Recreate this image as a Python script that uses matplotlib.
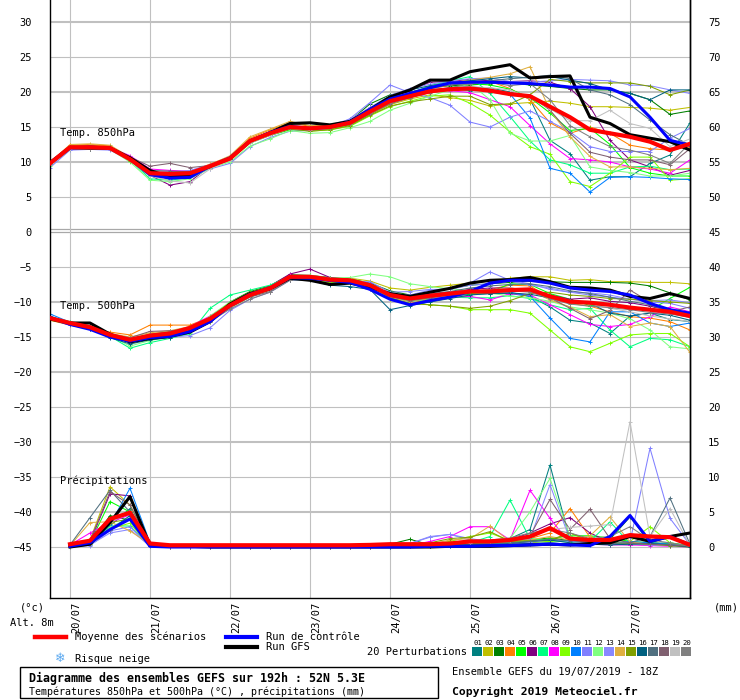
import numpy as np
import matplotlib
matplotlib.use("Agg")
import matplotlib.pyplot as plt
from matplotlib.patches import Rectangle
from matplotlib.lines import Line2D

W, H = 740, 700

def fx(x):
    return x / W

def fy(y):
    return 1 - y / H

# --- data -------------------------------------------------------------
steps = np.arange(33)          # 6-hourly from 19/07 18Z
days = ["20/07", "21/07", "22/07", "23/07", "24/07", "25/07", "26/07", "27/07"]
day_steps = [1, 5, 9, 13, 17, 21, 25, 29]

pert_colors = ["#008080", "#c0c000", "#008000", "#ff8000", "#00ff00",
               "#800080", "#00ff80", "#ff00ff", "#80ff00", "#0080ff",
               "#8080ff", "#80ff80", "#8888ff", "#e0b040", "#80a000",
               "#006080", "#507080", "#806070", "#c0c0c0", "#808080"]

t850_mean = [9.8, 12.1, 12.1, 12.0, 10.4, 8.4, 8.3, 8.4, 9.4, 10.5, 13.0, 14.1, 15.0, 14.8, 15.0, 15.6, 17.2,
             18.7, 19.4, 20.1, 20.4, 20.5, 20.2, 19.7, 19.4, 17.9, 16.4, 14.6, 14.1, 13.6, 12.9, 11.7, 12.6]
t850_ctrl = [9.8, 12.0, 12.1, 12.0, 10.4, 8.2, 7.7, 7.8, 9.4, 10.6, 13.0, 14.2, 15.1, 14.8, 15.0, 15.7, 17.5,
             19.0, 19.8, 20.6, 21.3, 21.4, 21.4, 21.3, 21.2, 21.0, 20.7, 20.7, 20.5, 19.3, 16.4, 13.1, 12.4]
t850_gfs = [9.9, 12.1, 12.0, 12.0, 10.6, 8.8, 7.8, 8.2, 9.4, 10.5, 13.0, 14.2, 15.5, 15.6, 15.3, 15.8, 17.5,
            19.3, 20.3, 21.7, 21.7, 22.9, 23.4, 23.9, 22.0, 22.2, 22.3, 16.4, 15.5, 13.9, 13.4, 12.9, 11.7]
t850_pert = [
    [10.0, 12.0, 12.2, 11.9, 10.6, 8.6, 8.0, 8.2, 9.3, 10.6, 12.9, 14.0, 14.8, 14.9, 15.1, 15.8, 17.4,
     18.6, 19.5, 20.2, 20.5, 20.2, 20.6, 20.0, 19.0, 13.1, 11.2, 7.4, 7.9, 7.9, 9.8, 11.0, 15.6],
    [9.6, 12.3, 12.4, 12.2, 10.5, 8.2, 7.6, 7.8, 9.6, 10.7, 13.2, 14.3, 15.2, 14.6, 14.8, 15.4, 16.8,
     18.2, 19.0, 19.6, 19.2, 18.8, 18.0, 18.3, 18.5, 18.7, 18.4, 17.9, 17.9, 17.8, 17.7, 17.4, 17.8],
    [9.9, 12.0, 12.0, 12.1, 10.3, 8.3, 8.5, 8.6, 9.5, 10.4, 12.8, 13.9, 14.9, 14.9, 15.2, 15.9, 18.3,
     19.6, 20.0, 20.6, 20.9, 21.0, 21.2, 21.3, 21.0, 20.8, 20.5, 20.3, 20.3, 19.8, 18.9, 16.8, 17.3],
    [9.8, 12.4, 12.5, 12.3, 10.6, 8.5, 8.4, 8.6, 9.7, 10.8, 13.4, 14.6, 15.6, 15.1, 15.2, 15.9, 17.3,
     18.9, 19.7, 20.4, 21.0, 21.3, 21.5, 20.5, 18.9, 15.6, 14.1, 15.0, 14.1, 12.4, 11.9, 11.7, 12.2],
    [9.7, 12.1, 12.0, 11.9, 10.2, 8.0, 7.8, 8.1, 9.2, 10.3, 12.7, 13.8, 14.6, 14.5, 14.8, 15.3, 16.9,
     18.4, 19.3, 20.0, 20.6, 21.2, 21.0, 20.4, 19.2, 17.0, 14.5, 14.8, 12.5, 9.2, 8.4, 8.0, 8.0],
    [9.9, 12.2, 12.3, 12.1, 10.5, 8.1, 6.7, 7.2, 9.4, 10.6, 13.1, 14.2, 15.1, 14.7, 15.0, 15.7, 17.4,
     19.2, 20.2, 21.4, 21.5, 21.8, 21.6, 21.5, 21.6, 21.4, 20.5, 17.9, 13.1, 10.3, 9.3, 8.1, 8.8],
    [9.7, 11.9, 12.1, 12.0, 10.3, 7.6, 7.4, 7.8, 9.3, 10.6, 13.0, 14.0, 14.9, 14.6, 14.7, 15.5, 17.0,
     18.8, 19.8, 20.9, 21.6, 22.2, 19.8, 16.5, 13.0, 10.3, 9.6, 8.4, 8.4, 9.3, 9.4, 8.9, 9.0],
    [9.8, 12.2, 12.2, 12.1, 10.9, 9.0, 8.8, 8.7, 9.6, 10.7, 13.2, 14.1, 15.0, 14.7, 15.0, 15.6, 17.0,
     18.5, 19.9, 20.3, 20.2, 19.9, 18.9, 17.9, 15.2, 12.6, 10.5, 10.3, 10.0, 9.3, 9.0, 8.4, 10.3],
    [9.6, 11.8, 11.9, 11.8, 10.2, 8.2, 8.1, 8.3, 9.3, 10.5, 12.9, 14.0, 14.8, 14.4, 14.6, 15.1, 16.6,
     17.9, 18.7, 19.4, 19.6, 18.4, 16.7, 14.3, 12.2, 11.1, 7.2, 6.5, 8.4, 10.7, 10.7, 7.4, 7.6],
    [9.7, 12.0, 12.1, 12.0, 10.4, 8.2, 7.6, 7.9, 9.5, 10.6, 13.1, 14.2, 15.1, 14.8, 15.0, 15.6, 17.3,
     18.8, 19.6, 20.3, 20.6, 20.8, 20.4, 19.7, 16.3, 9.1, 8.4, 5.7, 7.8, 7.9, 7.8, 7.6, 7.5],
    [9.2, 11.7, 11.8, 11.7, 10.2, 8.0, 7.7, 7.9, 9.0, 9.8, 12.2, 13.5, 14.4, 14.5, 14.8, 16.2, 18.5,
     21.0, 19.9, 19.2, 18.1, 15.7, 15.0, 16.4, 17.3, 15.8, 14.3, 12.2, 11.5, 11.5, 11.5, 13.4, 14.8],
    [9.5, 11.8, 11.9, 11.8, 10.0, 7.4, 7.2, 7.6, 9.1, 10.0, 12.3, 13.3, 14.5, 14.1, 14.2, 14.9, 15.8,
     17.4, 18.4, 19.4, 20.3, 21.2, 18.9, 14.1, 13.0, 13.0, 13.8, 9.3, 8.8, 8.5, 8.0, 8.0, 8.4],
    [9.8, 12.1, 12.0, 11.9, 10.4, 8.5, 8.6, 8.8, 9.6, 10.5, 12.9, 14.0, 15.0, 14.9, 15.3, 16.1, 17.8,
     19.5, 20.5, 21.1, 21.6, 21.9, 22.0, 21.5, 21.4, 21.6, 21.8, 21.7, 21.6, 21.0, 20.9, 20.3, 19.8],
    [9.9, 12.5, 12.6, 12.4, 10.7, 8.6, 8.4, 8.5, 9.6, 10.9, 13.6, 14.7, 15.8, 15.2, 15.2, 15.8, 17.4,
     19.0, 19.9, 20.7, 21.3, 21.7, 22.1, 22.6, 23.6, 17.4, 13.6, 10.8, 9.3, 9.3, 9.1, 8.9, 9.1],
    [9.8, 12.0, 12.1, 11.9, 10.2, 8.2, 8.0, 8.2, 9.4, 10.4, 12.8, 13.8, 14.7, 14.4, 14.6, 15.2, 16.7,
     18.0, 18.6, 19.0, 19.4, 19.4, 18.2, 18.3, 19.6, 21.8, 21.5, 21.3, 21.3, 21.3, 20.8, 19.6, 20.3],
    [9.9, 12.2, 12.2, 12.1, 10.6, 8.7, 8.1, 8.0, 9.2, 10.5, 12.9, 14.1, 15.0, 14.9, 15.1, 15.8, 17.5,
     19.3, 20.3, 20.9, 21.3, 21.6, 21.9, 22.2, 22.0, 22.2, 21.7, 21.2, 20.3, 19.8, 18.9, 20.3, 20.3],
    [10.1, 12.0, 11.9, 11.8, 10.5, 8.8, 8.7, 8.6, 9.4, 10.4, 12.8, 14.0, 14.9, 14.8, 15.1, 15.7, 17.3,
     19.0, 19.8, 20.6, 21.0, 21.2, 21.6, 21.9, 22.1, 22.4, 21.9, 20.3, 19.6, 18.2, 16.0, 13.9, 12.4],
    [9.9, 11.8, 11.8, 11.9, 10.7, 9.4, 9.8, 9.2, 9.5, 10.6, 12.9, 14.0, 14.9, 14.8, 14.9, 15.4, 16.9,
     18.3, 19.2, 19.9, 20.3, 20.4, 20.0, 19.6, 19.5, 17.4, 14.1, 11.4, 10.7, 10.3, 10.3, 9.6, 11.9],
    [9.6, 11.9, 12.0, 11.9, 10.3, 8.0, 7.3, 7.0, 9.0, 10.3, 12.7, 13.8, 14.8, 14.6, 14.9, 15.5, 17.1,
     18.6, 19.4, 20.1, 20.5, 20.8, 20.6, 20.3, 19.2, 17.6, 15.9, 15.9, 17.4, 15.5, 14.8, 12.2, 13.3],
    [9.9, 12.1, 12.0, 12.0, 10.4, 8.6, 8.5, 8.5, 9.5, 10.6, 13.0, 14.1, 14.9, 14.7, 14.9, 15.5, 17.0,
     18.4, 19.2, 20.0, 20.6, 21.2, 21.4, 20.9, 21.2, 18.9, 15.2, 13.6, 12.2, 11.7, 11.0, 9.8, 12.7],
]

t500_mean = [-12.3, -13.0, -13.6, -14.7, -15.4, -14.8, -14.5, -13.7, -12.4, -10.5, -9.0, -8.05, -6.4, -6.4, -6.8, -6.9,
             -7.6, -9.0, -9.5, -9.1, -8.8, -8.5, -8.5, -8.3, -8.2, -9.2, -9.95, -10.1, -10.4, -10.8, -11.1, -11.4, -12.0]
t500_ctrl = [-12.2, -13.2, -13.9, -15.0, -15.6, -15.1, -14.9, -14.2, -12.8, -10.5, -8.9, -8.0, -6.5, -6.6, -6.9, -7.2,
             -8.2, -9.6, -10.4, -9.8, -9.3, -8.5, -7.3, -6.9, -6.9, -7.3, -8.0, -8.3, -8.5, -9.0, -10.2, -11.1, -11.6]
t500_gfs = [-12.4, -13.0, -13.0, -14.6, -15.7, -15.2, -14.9, -14.3, -12.8, -10.3, -8.8, -8.1, -6.6, -6.9, -7.5, -7.3,
            -7.9, -8.8, -9.2, -8.6, -8.05, -7.3, -6.9, -6.8, -6.5, -7.1, -7.9, -8.0, -8.3, -9.2, -9.5, -8.8, -9.5]
t500_pert = [
    [-12.0, -13.1, -13.8, -14.9, -15.6, -15.0, -14.7, -13.9, -12.6, -10.6, -9.1, -8.2, -6.6, -6.5, -6.9, -7.3,
     -7.8, -9.4, -9.8, -9.5, -9.2, -8.9, -8.8, -8.8, -9.2, -10.7, -12.6, -13.0, -14.5, -12.0, -11.6, -12.5, -12.8],
    [-12.5, -13.2, -13.5, -14.5, -15.2, -14.6, -14.2, -13.6, -12.2, -10.2, -8.7, -7.8, -6.2, -6.4, -6.7, -6.6,
     -7.0, -8.0, -8.3, -7.9, -7.6, -7.3, -7.0, -6.6, -6.4, -6.4, -6.9, -6.8, -7.1, -7.1, -7.2, -7.2, -7.4],
    [-12.4, -13.0, -13.6, -14.8, -15.8, -15.2, -14.9, -14.0, -12.5, -10.0, -8.5, -7.7, -6.1, -6.2, -6.5, -6.7,
     -7.3, -8.4, -9.0, -8.6, -8.1, -7.6, -7.4, -7.2, -7.0, -7.1, -7.2, -7.2, -7.2, -7.3, -7.7, -8.7, -9.7],
    [-12.6, -13.3, -13.9, -14.3, -14.7, -13.3, -13.3, -13.3, -12.2, -10.6, -9.2, -8.2, -6.7, -6.9, -7.2, -7.3,
     -7.8, -9.6, -10.2, -9.6, -8.8, -8.7, -8.2, -7.6, -7.7, -9.4, -10.2, -10.6, -11.4, -12.1, -12.3, -12.8, -14.0],
    [-12.2, -12.9, -13.4, -14.6, -15.5, -15.0, -14.6, -13.7, -12.3, -10.3, -8.9, -8.0, -6.5, -6.3, -6.7, -6.8,
     -7.4, -9.0, -9.5, -9.2, -9.0, -8.8, -8.6, -7.4, -7.5, -8.8, -9.6, -10.5, -10.4, -10.9, -11.2, -9.5, -7.9],
    [-12.3, -13.1, -13.7, -14.8, -15.4, -14.9, -14.4, -13.6, -12.2, -10.4, -8.8, -7.7, -6.0, -5.3, -6.5, -6.8,
     -7.7, -8.8, -9.3, -9.0, -8.6, -8.2, -8.0, -8.0, -8.3, -9.0, -9.6, -9.4, -9.9, -10.1, -10.6, -11.2, -11.6],
    [-12.1, -12.8, -13.5, -14.9, -16.6, -15.8, -15.2, -14.5, -10.9, -9.0, -8.3, -7.6, -6.3, -6.4, -6.9, -7.0,
     -7.6, -9.3, -9.9, -9.6, -9.3, -9.4, -9.4, -9.1, -9.5, -10.4, -11.1, -10.9, -14.0, -16.4, -15.2, -15.4, -16.4],
    [-12.3, -13.0, -13.5, -14.6, -15.2, -14.7, -14.3, -13.5, -12.0, -10.3, -8.8, -7.9, -6.2, -6.3, -6.7, -6.9,
     -7.6, -9.3, -9.6, -9.4, -9.3, -9.2, -9.7, -8.8, -9.0, -10.4, -11.8, -13.2, -13.5, -13.2, -12.1, -10.7, -11.4],
    [-12.4, -13.2, -13.8, -14.9, -15.7, -15.3, -15.0, -14.2, -12.8, -10.8, -9.3, -8.3, -6.6, -6.7, -7.2, -7.2,
     -8.0, -9.6, -10.2, -10.4, -10.6, -11.1, -11.1, -11.1, -11.6, -14.0, -16.4, -17.1, -15.9, -14.7, -14.5, -14.5, -16.4],
    [-11.7, -12.9, -13.6, -14.7, -15.5, -15.0, -14.7, -13.9, -12.6, -10.7, -9.2, -8.2, -6.5, -6.4, -6.8, -6.9,
     -7.3, -9.2, -9.9, -9.4, -9.0, -8.6, -8.5, -8.6, -9.2, -12.3, -15.2, -15.7, -11.4, -11.4, -13.0, -13.5, -13.0],
    [-12.5, -13.3, -13.8, -15.0, -15.6, -15.2, -15.0, -14.8, -13.7, -11.2, -9.6, -8.6, -6.9, -6.7, -7.0, -7.2,
     -7.9, -8.9, -9.0, -8.3, -8.1, -7.3, -5.7, -6.9, -7.4, -8.2, -8.6, -9.0, -9.3, -9.6, -10.0, -10.2, -10.9],
    [-12.2, -12.9, -13.5, -14.8, -16.3, -15.5, -15.0, -14.4, -12.0, -10.0, -8.7, -7.9, -6.3, -6.2, -6.6, -6.5,
     -6.0, -6.4, -7.4, -7.8, -8.1, -8.4, -8.7, -9.2, -9.4, -9.9, -10.7, -11.1, -11.6, -12.4, -14.0, -16.4, -16.7],
    [-12.3, -13.0, -13.6, -14.6, -15.3, -14.8, -14.5, -13.8, -12.5, -10.6, -9.1, -8.1, -6.6, -6.6, -7.0, -7.1,
     -7.1, -8.6, -8.5, -8.2, -8.2, -7.6, -7.4, -7.0, -7.6, -8.0, -8.6, -8.7, -9.0, -9.6, -9.8, -9.7, -10.1],
    [-12.4, -13.1, -13.6, -14.5, -15.0, -14.4, -14.1, -13.5, -12.3, -10.4, -8.9, -7.9, -6.4, -6.5, -6.9, -7.0,
     -7.9, -9.4, -9.9, -9.5, -9.0, -8.4, -8.3, -8.0, -8.4, -9.7, -10.7, -12.1, -11.8, -13.5, -13.0, -13.5, -17.2],
    [-12.6, -13.2, -13.7, -14.7, -15.4, -14.7, -14.3, -13.6, -12.2, -10.1, -8.6, -7.8, -6.4, -6.6, -7.0, -7.0,
     -7.5, -9.4, -10.2, -10.4, -10.6, -10.9, -10.6, -9.8, -8.8, -8.6, -9.0, -9.2, -9.5, -9.6, -9.8, -10.0, -10.2],
    [-12.4, -13.1, -13.8, -15.1, -16.0, -15.4, -15.1, -14.1, -12.6, -10.6, -9.0, -8.3, -6.8, -6.9, -7.6, -7.8,
     -8.2, -11.1, -10.5, -10.0, -9.5, -9.0, -8.8, -8.7, -8.9, -9.4, -9.7, -10.2, -11.6, -12.0, -11.6, -11.9, -12.6],
    [-12.2, -13.0, -13.6, -14.7, -15.3, -14.8, -14.5, -13.7, -12.4, -10.5, -9.0, -8.0, -6.4, -6.4, -6.8, -6.9,
     -7.4, -8.9, -9.3, -8.8, -8.5, -8.0, -7.7, -7.5, -7.4, -7.8, -8.4, -8.8, -9.3, -9.9, -10.4, -11.4, -12.1],
    [-12.3, -13.1, -13.7, -14.6, -15.1, -14.2, -14.1, -13.9, -12.7, -10.8, -9.3, -8.5, -6.8, -6.7, -7.0, -7.2,
     -7.7, -9.2, -9.8, -9.4, -9.0, -8.6, -8.3, -8.3, -8.5, -9.4, -10.9, -12.4, -11.2, -8.3, -10.0, -11.4, -10.7],
    [-12.3, -13.0, -13.6, -14.8, -15.5, -15.0, -14.7, -13.9, -12.5, -10.5, -9.0, -8.1, -6.5, -6.5, -6.9, -7.0,
     -7.5, -9.0, -9.4, -9.0, -8.7, -8.4, -8.3, -8.1, -8.3, -9.1, -9.8, -10.3, -10.9, -11.4, -12.0, -12.4, -12.8],
    [-12.4, -13.1, -13.7, -14.7, -15.3, -14.6, -14.3, -13.8, -12.8, -11.0, -9.6, -8.6, -6.9, -6.6, -6.9, -7.1,
     -7.6, -9.1, -9.6, -9.2, -8.8, -8.5, -8.2, -8.4, -8.6, -9.5, -10.3, -10.6, -10.8, -11.1, -11.5, -11.7, -12.2],
]

# precipitation (mm), steps 1..32
precip_mean = [0.4, 0.9, 4.0, 4.9, 0.5, 0.25, 0.25, 0.25, 0.25, 0.25, 0.25, 0.25, 0.25, 0.25, 0.25,
               0.3, 0.4, 0.4, 0.4, 0.5, 0.8, 0.8, 1.0, 1.5, 2.7, 1.2, 1.0, 1.0, 1.7, 1.5, 1.4, 0.3]
precip_ctrl = [0.1, 0.6, 2.5, 4.0, 0.1, 0.0, 0.0, 0.0, 0.0, 0.0, 0.0, 0.0, 0.0, 0.0, 0.0,
               0.0, 0.0, 0.0, 0.1, 0.1, 0.1, 0.2, 0.2, 0.3, 0.4, 0.3, 0.2, 1.5, 4.5, 0.8, 1.5, 0.3]
precip_gfs = [0.0, 0.4, 3.5, 7.2, 0.2, 0.1, 0.1, 0.0, 0.0, 0.0, 0.0, 0.0, 0.0, 0.0, 0.0,
              0.0, 0.0, 0.0, 0.0, 0.1, 0.1, 0.1, 0.2, 0.3, 0.4, 0.3, 0.5, 0.6, 1.5, 0.8, 1.5, 2.0]
precip_pert = [
    [0.2, 0.6, 3.0, 5.5, 0.3, 0, 0, 0, 0, 0, 0, 0, 0, 0, 0,
     0.1, 0.2, 0.3, 0.4, 0.5, 0.6, 0.7, 1.2, 2.5, 11.7, 1.0, 0.6, 0.4, 0.3, 0.5, 0.6, 0.2],
    [0.0, 1.0, 8.6, 6.0, 0.4, 0, 0, 0, 0, 0, 0, 0, 0, 0, 0,
     0.0, 0.1, 0.2, 0.3, 0.4, 0.5, 0.6, 0.4, 0.6, 0.8, 2.0, 0.8, 0.5, 0.4, 0.3, 0.2, 0.0],
    [0.1, 0.4, 4.5, 3.8, 0.2, 0.1, 0.1, 0, 0, 0, 0, 0, 0, 0, 0,
     0.1, 0.4, 1.1, 0.3, 0.4, 0.5, 0.6, 0.8, 1.0, 1.3, 0.9, 1.2, 1.1, 4.3, 0.6, 0.4, 0.1],
    [0.2, 0.8, 3.8, 5.2, 0.5, 0, 0, 0, 0, 0, 0, 0, 0, 0, 0,
     0.0, 0.1, 0.1, 0.2, 0.3, 0.4, 0.5, 0.9, 1.2, 2.0, 5.5, 1.4, 0.7, 0.5, 0.3, 0.2, 0.0],
    [0.0, 0.6, 6.5, 5.0, 0.3, 0, 0, 0, 0, 0, 0, 0, 0, 0, 0,
     0.0, 0.1, 0.2, 0.2, 0.3, 0.4, 0.5, 0.6, 0.9, 1.2, 1.6, 1.6, 1.3, 0.8, 0.6, 0.4, 0.1],
    [0.1, 0.7, 7.6, 7.3, 0.4, 0, 0, 0, 0, 0, 0, 0, 0, 0, 0,
     0.0, 0.1, 0.2, 0.3, 0.4, 0.6, 0.8, 1.0, 2.0, 3.3, 4.2, 2.0, 0.7, 0.5, 0.4, 0.3, 0.1],
    [0.0, 0.5, 3.0, 3.0, 0.2, 0, 0, 0, 0, 0, 0, 0, 0, 0, 0,
     0.0, 0.1, 0.2, 0.3, 0.4, 0.6, 1.5, 6.7, 1.2, 0.9, 0.7, 0.8, 3.6, 0.5, 0.3, 0.2, 0.0],
    [0.3, 2.0, 3.5, 4.6, 0.5, 0, 0, 0, 0, 0, 0, 0, 0, 0, 0,
     0.0, 0.1, 0.2, 0.8, 1.5, 2.9, 2.9, 1.0, 8.1, 4.1, 0.5, 0.4, 0.3, 0.3, 0.2, 0.1, 0.0],
    [0.0, 0.3, 2.6, 3.4, 0.1, 0, 0, 0, 0, 0, 0, 0, 0, 0, 0,
     0.0, 0.1, 0.2, 0.4, 0.8, 1.5, 2.0, 0.9, 0.7, 0.8, 1.0, 0.6, 0.5, 0.8, 2.9, 0.6, 0.1],
    [0.1, 0.5, 3.2, 8.4, 0.6, 0, 0, 0, 0, 0, 0, 0, 0, 0, 0,
     0.0, 0.0, 0.1, 0.1, 0.2, 0.3, 0.3, 0.4, 0.5, 0.6, 0.4, 0.3, 0.5, 0.8, 0.6, 0.4, 0.1],
    [0.0, 0.2, 2.3, 2.9, 0.1, 0, 0, 0, 0, 0, 0, 0, 0, 0, 0,
     0.0, 0.1, 0.5, 1.4, 1.8, 1.0, 0.6, 0.5, 0.7, 1.0, 0.8, 0.6, 0.5, 0.7, 14.1, 4.1, 0.3],
    [0.1, 0.4, 2.8, 4.2, 0.2, 0, 0, 0, 0, 0, 0, 0, 0, 0, 0,
     0.0, 0.1, 0.2, 0.3, 0.5, 0.7, 0.9, 1.2, 5.0, 9.8, 1.5, 0.8, 0.6, 0.5, 0.4, 0.2, 0.0],
    [0.0, 0.3, 2.0, 2.5, 0.1, 0, 0, 0, 0, 0, 0, 0, 0, 0, 0,
     0.0, 0.1, 0.5, 1.5, 1.8, 1.2, 0.8, 0.9, 1.2, 8.9, 1.0, 0.6, 0.5, 0.4, 0.3, 0.2, 0.0],
    [0.2, 3.5, 3.6, 2.3, 0.4, 0, 0, 0, 0, 0, 0, 0, 0, 0, 0,
     0.0, 0.1, 0.2, 0.4, 1.0, 1.2, 3.0, 0.8, 1.0, 1.5, 1.0, 1.6, 4.3, 0.7, 0.4, 0.3, 0.1],
    [0.0, 0.5, 3.5, 4.0, 0.3, 0, 0, 0, 0, 0, 0, 0, 0, 0, 0,
     0.0, 0.1, 0.3, 0.6, 1.2, 1.4, 2.2, 0.8, 0.9, 1.0, 2.0, 1.0, 0.6, 0.5, 0.4, 0.2, 0.0],
    [0.1, 0.6, 2.4, 4.5, 0.2, 0, 0, 0, 0, 0, 0, 0, 0, 0, 0,
     0.0, 0.0, 0.1, 0.1, 0.2, 0.3, 0.4, 0.5, 0.8, 1.0, 0.6, 0.4, 0.3, 0.4, 0.5, 0.3, 0.0],
    [0.3, 4.2, 8.1, 5.0, 0.5, 0, 0, 0, 0, 0, 0, 0, 0, 0, 0,
     0.0, 0.1, 0.2, 0.2, 0.3, 0.4, 0.5, 0.6, 0.8, 1.1, 0.9, 0.7, 0.5, 0.6, 1.5, 7.0, 0.4],
    [0.1, 0.9, 7.9, 6.0, 0.4, 0, 0, 0, 0, 0, 0, 0, 0, 0, 0,
     0.0, 0.1, 0.2, 0.3, 0.4, 0.6, 0.8, 1.0, 1.6, 6.8, 2.5, 5.4, 1.2, 0.6, 0.4, 0.3, 0.1],
    [0.0, 0.4, 3.6, 4.8, 0.2, 0, 0, 0, 0, 0, 0, 0, 0, 0, 0,
     0.0, 0.1, 0.2, 0.4, 0.5, 0.6, 0.8, 1.0, 1.4, 2.5, 2.8, 3.0, 3.2, 17.9, 1.5, 5.5, 0.2],
    [0.1, 0.5, 2.5, 4.0, 0.3, 0, 0, 0, 0, 0, 0, 0, 0, 0, 0,
     0.0, 0.1, 0.2, 0.3, 0.5, 0.8, 1.0, 1.3, 2.0, 2.5, 2.0, 1.2, 1.5, 2.9, 1.0, 0.6, 0.1],
]

# precipitation is drawn on the same axis, shifted by 45 (0 mm = -45)
P_OFF = 45
p_steps = steps[1:]

# --- figure -----------------------------------------------------------
mono = "DejaVu Sans Mono"
plt.rcParams["font.family"] = mono

fig = plt.figure(figsize=(7.4, 7.0), dpi=100)
ax = fig.add_axes([fx(50), fy(598), fx(690) - fx(50), fy(0) - fy(598)])
ax.set_xlim(0, 32)
ax.set_ylim(-366 / 7, 232 / 7)

for v in range(-45, 31, 5):
    if v == 0:
        continue
    ax.axhline(v, color="#c0c0c0", lw=1.5 if v % 10 == 0 else 0.8, zorder=0)
ax.axhline(0.05, color="#a8a8a8", lw=0.9, zorder=0)
ax.axhline(0.38, color="#a8a8a8", lw=0.9, zorder=0)
for d in day_steps:
    ax.axvline(d, color="#c0c0c0", lw=0.8, zorder=0)

for k in range(20):
    c = pert_colors[k]
    ax.plot(steps, t850_pert[k], color=c, lw=0.75, marker="+", ms=2.5, mew=0.7, zorder=2)
    ax.plot(steps, t500_pert[k], color=c, lw=0.75, marker="+", ms=2.5, mew=0.7, zorder=2)
    ax.plot(p_steps, np.array(precip_pert[k]) - P_OFF, color=c, lw=0.75,
            marker="+", ms=2.5, mew=0.7, zorder=2)

for series, x in ((t850_gfs, steps), (t500_gfs, steps), (np.array(precip_gfs) - P_OFF, p_steps)):
    ax.plot(x, series, color="black", lw=2.2, zorder=3)
for series, x in ((t850_ctrl, steps), (t500_ctrl, steps), (np.array(precip_ctrl) - P_OFF, p_steps)):
    ax.plot(x, series, color="#0000ff", lw=2.2, zorder=4)
for series, x in ((t850_mean, steps), (t500_mean, steps), (np.array(precip_mean) - P_OFF, p_steps)):
    ax.plot(x, series, color="#ff0000", lw=3.0, zorder=5)

ax.set_xticks([])
ax.set_yticks(range(-45, 31, 5))
ax.tick_params(axis="y", length=0, pad=13, labelsize=7.5)
sec = ax.secondary_yaxis("right", functions=(lambda v: v + 45, lambda v: v - 45))
sec.set_yticks(range(0, 76, 5))
sec.tick_params(axis="y", length=0, pad=13, labelsize=7.5)
ax.spines["top"].set_visible(False)
for s in ("left", "right", "bottom"):
    ax.spines[s].set_linewidth(1.0)
sec.spines["right"].set_linewidth(1.0)

ax.text(0.5, 14.2, "Temp. 850hPa", fontsize=7.5, va="center")
ax.text(0.5, -10.5, "Temp. 500hPa", fontsize=7.5, va="center")
ax.text(0.5, -35.5, "Précipitations", fontsize=7.5, va="center")

# --- texts under the plot ---------------------------------------------
for d, lab in zip(day_steps, days):
    fig.text(fx(50 + 20 * d + 6), fy(602), lab, rotation=90, ha="center", va="top", fontsize=7.5)

fig.text(fx(20), fy(607), "(°c)", fontsize=7.5, va="center")
fig.text(fx(10), fy(623), "Alt. 8m", fontsize=7.5, va="center")
fig.text(fx(714), fy(607), "(mm)", fontsize=7.5, va="center")

fig.add_artist(Line2D([fx(35), fx(66)], [fy(637)] * 2, color="#ff0000", lw=3.2))
fig.text(fx(75), fy(637), "Moyenne des scénarios", fontsize=7.5, va="center")
fig.add_artist(Line2D([fx(226), fx(257)], [fy(637)] * 2, color="#0000ff", lw=3.0))
fig.text(fx(266), fy(637), "Run de contrôle", fontsize=7.5, va="center")
fig.add_artist(Line2D([fx(226), fx(257)], [fy(647)] * 2, color="black", lw=3.0))
fig.text(fx(266), fy(647), "Run GFS", fontsize=7.5, va="center")
fig.text(fx(60), fy(658), "❄", fontsize=9, color="#5aa8f0", ha="center", va="center",
         family=["DejaVu Sans"])
fig.text(fx(75), fy(659), "Risque neige", fontsize=7.5, va="center")

fig.text(fx(467), fy(652), "20 Perturbations", fontsize=7.5, ha="right", va="center")
for k in range(20):
    x0 = 472 + 11 * k
    fig.text(fx(x0 + 5.5), fy(643), "%02d" % (k + 1), fontsize=5.2, ha="center", va="center")
    fig.add_artist(Rectangle((fx(x0), fy(656)), fx(10), 9 / H, transform=fig.transFigure,
                             facecolor=pert_colors[k], edgecolor="none"))

fig.add_artist(Rectangle((fx(20), fy(698)), fx(418), 31 / H, transform=fig.transFigure,
                         facecolor="none", edgecolor="black", lw=1.0))
fig.text(fx(29), fy(678), "Diagramme des ensembles GEFS sur 192h : 52N 5.3E",
         fontsize=8.4, fontweight="bold", va="center")
fig.text(fx(29), fy(692), "Températures 850hPa et 500hPa (°C) , précipitations (mm)",
         fontsize=7.2, va="center")
fig.text(fx(452), fy(672), "Ensemble GEFS du 19/07/2019 - 18Z", fontsize=7.5, va="center")
fig.text(fx(452), fy(692), "Copyright 2019 Meteociel.fr", fontsize=8.2, fontweight="bold", va="center")

fig.savefig("out.png", dpi=100)
